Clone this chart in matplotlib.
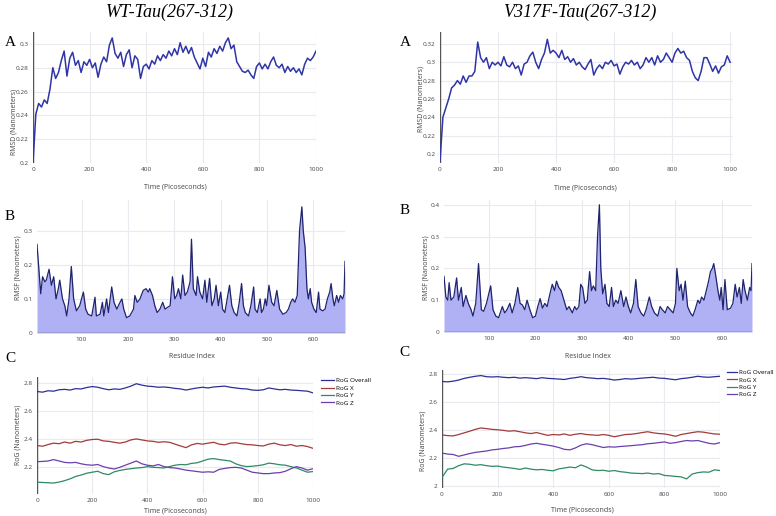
import numpy as np
import matplotlib
matplotlib.use("Agg")
import matplotlib.pyplot as plt
from matplotlib.ticker import FuncFormatter

W, H = 776, 516

# --- RMSD (A) ---
time_rmsd = np.arange(0, 1001, 10)
wt_rmsd = [0.200, 0.241, 0.250, 0.247, 0.253, 0.250, 0.262, 0.280, 0.271, 0.276,
           0.286, 0.294, 0.273, 0.288, 0.293, 0.282, 0.286, 0.276, 0.285, 0.282,
           0.287, 0.280, 0.284, 0.272, 0.283, 0.289, 0.285, 0.299, 0.305, 0.292,
           0.288, 0.293, 0.281, 0.291, 0.295, 0.280, 0.290, 0.287, 0.271, 0.281,
           0.283, 0.279, 0.286, 0.283, 0.290, 0.286, 0.291, 0.288, 0.294, 0.290,
           0.296, 0.291, 0.301, 0.293, 0.298, 0.292, 0.297, 0.289, 0.284, 0.279,
           0.288, 0.281, 0.293, 0.289, 0.296, 0.292, 0.298, 0.294, 0.301, 0.305,
           0.296, 0.299, 0.285, 0.281, 0.277, 0.276, 0.278, 0.274, 0.271, 0.281,
           0.284, 0.279, 0.283, 0.279, 0.285, 0.289, 0.282, 0.280, 0.283, 0.276,
           0.281, 0.277, 0.280, 0.276, 0.279, 0.274, 0.283, 0.288, 0.286, 0.289,
           0.294]
mut_rmsd = [0.192, 0.240, 0.250, 0.260, 0.272, 0.275, 0.280, 0.276, 0.285, 0.278,
            0.285, 0.285, 0.290, 0.322, 0.305, 0.300, 0.305, 0.293, 0.300, 0.297,
            0.300, 0.296, 0.306, 0.297, 0.295, 0.300, 0.293, 0.296, 0.286, 0.298,
            0.300, 0.307, 0.311, 0.300, 0.293, 0.303, 0.310, 0.325, 0.310, 0.313,
            0.310, 0.305, 0.313, 0.303, 0.306, 0.300, 0.304, 0.297, 0.300, 0.295,
            0.292, 0.298, 0.303, 0.286, 0.293, 0.297, 0.293, 0.300, 0.298, 0.302,
            0.296, 0.298, 0.287, 0.295, 0.300, 0.298, 0.302, 0.297, 0.300, 0.293,
            0.297, 0.305, 0.300, 0.305, 0.297, 0.307, 0.300, 0.303, 0.310, 0.305,
            0.300, 0.310, 0.315, 0.310, 0.312, 0.305, 0.302, 0.290, 0.283, 0.280,
            0.290, 0.305, 0.305, 0.298, 0.290, 0.296, 0.288, 0.295, 0.297, 0.307,
            0.300]

# --- RMSF (B) ---
wt_res = [4, 9, 12, 16, 21, 24, 30, 35, 40, 45, 50, 53, 59, 64, 68, 73, 78, 83, 89, 96,
          104, 109, 114, 122, 129, 132, 140, 145, 148, 154, 158, 165, 170, 176, 183, 187,
          191, 197, 204, 212, 215, 220, 226, 233, 239, 244, 247, 253, 258, 263, 269, 275,
          280, 285, 291, 296, 301, 305, 309, 314, 318, 323, 328, 334, 337, 341, 347, 350,
          355, 361, 366, 370, 376, 381, 386, 390, 395, 400, 404, 409, 414, 419, 424, 429,
          435, 440, 445, 449, 453, 460, 465, 471, 474, 479, 485, 488, 492, 496, 499, 504,
          510, 515, 521, 527, 534, 541, 546, 551, 555, 560, 565, 570, 575, 578, 582, 586,
          589, 593, 596, 601, 606, 611, 614, 620, 625, 630, 635, 638, 642, 645, 650, 654,
          658, 663, 666, 668]
wt_rmsf = [0.26, 0.17, 0.115, 0.165, 0.15, 0.155, 0.187, 0.14, 0.165, 0.10, 0.13, 0.155,
           0.10, 0.08, 0.05, 0.10, 0.195, 0.10, 0.065, 0.08, 0.12, 0.07, 0.055, 0.05,
           0.105, 0.05, 0.055, 0.09, 0.05, 0.10, 0.06, 0.135, 0.09, 0.07, 0.09, 0.10,
           0.07, 0.045, 0.05, 0.07, 0.11, 0.09, 0.10, 0.125, 0.13, 0.12, 0.13, 0.11,
           0.08, 0.06, 0.07, 0.09, 0.07, 0.075, 0.08, 0.165, 0.10, 0.11, 0.13, 0.10,
           0.17, 0.11, 0.12, 0.15, 0.275, 0.13, 0.11, 0.165, 0.12, 0.10, 0.155, 0.09,
           0.16, 0.08, 0.10, 0.14, 0.08, 0.12, 0.07, 0.06, 0.10, 0.14, 0.08, 0.06,
           0.05, 0.09, 0.145, 0.08, 0.06, 0.05, 0.08, 0.135, 0.07, 0.06, 0.10, 0.06,
           0.07, 0.10, 0.08, 0.14, 0.09, 0.08, 0.125, 0.07, 0.055, 0.06, 0.07, 0.09,
           0.10, 0.09, 0.11, 0.30, 0.37, 0.30, 0.25, 0.13, 0.10, 0.13, 0.09, 0.07,
           0.06, 0.12, 0.07, 0.065, 0.07, 0.10, 0.12, 0.145, 0.10, 0.08, 0.11, 0.09,
           0.11, 0.10, 0.115, 0.21]
mut_res = [4, 8, 12, 15, 19, 25, 31, 35, 41, 45, 51, 56, 62, 66, 72, 78, 84, 89, 95, 104,
           109, 115, 121, 129, 134, 139, 145, 150, 156, 162, 167, 172, 177, 182, 188, 194,
           200, 205, 210, 215, 220, 225, 231, 236, 241, 245, 250, 255, 261, 267, 272, 279,
           284, 288, 293, 297, 301, 306, 311, 316, 320, 324, 329, 333, 337, 340, 344, 349,
           353, 358, 363, 367, 372, 377, 383, 389, 394, 399, 404, 410, 415, 420, 426, 432,
           437, 444, 449, 455, 462, 467, 472, 478, 483, 489, 495, 500, 503, 508, 512, 516,
           521, 526, 532, 537, 542, 548, 552, 556, 561, 566, 571, 575, 579, 582, 586, 591,
           595, 598, 602, 606, 611, 618, 623, 628, 632, 637, 641, 645, 649, 654, 659, 662,
           664]
mut_rmsf = [0.175, 0.11, 0.10, 0.155, 0.10, 0.11, 0.17, 0.10, 0.14, 0.08, 0.115, 0.09,
            0.07, 0.05, 0.09, 0.215, 0.07, 0.065, 0.09, 0.145, 0.07, 0.05, 0.045, 0.08,
            0.06, 0.07, 0.09, 0.06, 0.09, 0.14, 0.09, 0.085, 0.07, 0.10, 0.07, 0.045,
            0.05, 0.08, 0.105, 0.075, 0.09, 0.08, 0.12, 0.15, 0.13, 0.16, 0.14, 0.13,
            0.10, 0.07, 0.08, 0.06, 0.08, 0.07, 0.08, 0.15, 0.14, 0.09, 0.10, 0.19,
            0.13, 0.145, 0.13, 0.30, 0.40, 0.20, 0.12, 0.15, 0.09, 0.08, 0.14, 0.08,
            0.10, 0.09, 0.13, 0.08, 0.11, 0.08, 0.06, 0.09, 0.165, 0.08, 0.06, 0.05,
            0.07, 0.11, 0.08, 0.06, 0.05, 0.08, 0.07, 0.06, 0.08, 0.07, 0.06, 0.09,
            0.20, 0.13, 0.15, 0.10, 0.16, 0.08, 0.06, 0.05, 0.07, 0.10, 0.09, 0.11,
            0.10, 0.13, 0.16, 0.19, 0.20, 0.215, 0.18, 0.13, 0.10, 0.14, 0.07, 0.165,
            0.07, 0.075, 0.09, 0.15, 0.11, 0.14, 0.09, 0.165, 0.13, 0.10, 0.14, 0.13,
            0.215]

# --- Radius of gyration (C) ---
time_rog = np.arange(0, 1001, 20)
wt_rog_all = [2.740, 2.735, 2.745, 2.742, 2.752, 2.755, 2.750, 2.760, 2.758, 2.768,
              2.775, 2.770, 2.760, 2.752, 2.758, 2.755, 2.765, 2.778, 2.795, 2.785,
              2.778, 2.775, 2.770, 2.772, 2.768, 2.762, 2.758, 2.750, 2.758, 2.765,
              2.770, 2.765, 2.772, 2.775, 2.778, 2.770, 2.765, 2.760, 2.758, 2.750,
              2.748, 2.752, 2.765, 2.758, 2.752, 2.755, 2.750, 2.748, 2.745, 2.742,
              2.730]
wt_rog_x = [2.355, 2.350, 2.362, 2.372, 2.368, 2.380, 2.372, 2.385, 2.380, 2.392,
            2.398, 2.400, 2.388, 2.385, 2.378, 2.372, 2.380, 2.395, 2.402, 2.395,
            2.388, 2.385, 2.378, 2.382, 2.378, 2.365, 2.352, 2.340, 2.360, 2.370,
            2.365, 2.372, 2.378, 2.365, 2.360, 2.372, 2.375, 2.368, 2.362, 2.360,
            2.355, 2.352, 2.365, 2.372, 2.360, 2.355, 2.362, 2.350, 2.355, 2.348,
            2.335]
wt_rog_y = [2.095, 2.092, 2.090, 2.088, 2.095, 2.105, 2.118, 2.135, 2.145, 2.158,
            2.165, 2.172, 2.155, 2.148, 2.168, 2.178, 2.185, 2.190, 2.195, 2.198,
            2.205, 2.200, 2.198, 2.195, 2.205, 2.215, 2.220, 2.218, 2.228, 2.232,
            2.245, 2.258, 2.262, 2.255, 2.250, 2.245, 2.225, 2.212, 2.205, 2.208,
            2.212, 2.218, 2.230, 2.225, 2.218, 2.215, 2.205, 2.195, 2.180, 2.165,
            2.170]
wt_rog_z = [2.240, 2.242, 2.245, 2.255, 2.245, 2.235, 2.232, 2.235, 2.225, 2.218,
            2.215, 2.220, 2.205, 2.195, 2.188, 2.200, 2.215, 2.230, 2.245, 2.225,
            2.215, 2.210, 2.220, 2.205, 2.198, 2.195, 2.188, 2.180, 2.175, 2.170,
            2.165, 2.168, 2.165, 2.185, 2.192, 2.198, 2.200, 2.195, 2.180, 2.165,
            2.160, 2.155, 2.155, 2.160, 2.162, 2.172, 2.190, 2.205, 2.195, 2.180,
            2.190]
mut_rog_all = [2.748, 2.745, 2.750, 2.758, 2.770, 2.778, 2.785, 2.790, 2.782, 2.780,
               2.782, 2.778, 2.775, 2.778, 2.772, 2.775, 2.772, 2.768, 2.775, 2.770,
               2.768, 2.765, 2.762, 2.770, 2.775, 2.782, 2.775, 2.772, 2.768, 2.770,
               2.765, 2.758, 2.762, 2.768, 2.765, 2.768, 2.772, 2.775, 2.778, 2.772,
               2.770, 2.765, 2.760, 2.768, 2.772, 2.778, 2.785, 2.780, 2.778, 2.782,
               2.785]
mut_rog_x = [2.365, 2.360, 2.358, 2.368, 2.380, 2.392, 2.405, 2.415, 2.410, 2.405,
             2.402, 2.398, 2.392, 2.395, 2.388, 2.380, 2.375, 2.382, 2.372, 2.362,
             2.368, 2.365, 2.372, 2.362, 2.370, 2.375, 2.368, 2.365, 2.362, 2.368,
             2.362, 2.352, 2.360, 2.368, 2.370, 2.375, 2.382, 2.388, 2.380, 2.375,
             2.372, 2.365, 2.355, 2.368, 2.375, 2.382, 2.388, 2.385, 2.378, 2.372,
             2.370]
mut_rog_y = [2.060, 2.120, 2.125, 2.145, 2.158, 2.155, 2.148, 2.152, 2.145, 2.140,
             2.142, 2.135, 2.130, 2.125, 2.118, 2.128, 2.120, 2.115, 2.118, 2.112,
             2.108, 2.122, 2.128, 2.135, 2.130, 2.150, 2.135, 2.115, 2.110, 2.112,
             2.105, 2.110, 2.102, 2.098, 2.092, 2.090, 2.088, 2.092, 2.085, 2.088,
             2.075, 2.072, 2.068, 2.065, 2.050, 2.085, 2.095, 2.100, 2.098, 2.115,
             2.110]
mut_rog_z = [2.235, 2.228, 2.225, 2.212, 2.222, 2.232, 2.240, 2.245, 2.250, 2.258,
             2.262, 2.268, 2.272, 2.280, 2.282, 2.290, 2.300, 2.305, 2.298, 2.292,
             2.285, 2.275, 2.262, 2.258, 2.272, 2.292, 2.302, 2.295, 2.285, 2.275,
             2.280, 2.278, 2.282, 2.285, 2.288, 2.292, 2.295, 2.302, 2.305, 2.310,
             2.315, 2.305, 2.310, 2.318, 2.325, 2.322, 2.325, 2.315, 2.305, 2.300,
             2.310]

rog_labels = ["RoG Overall", "RoG X", "RoG Y", "RoG Z"]
rog_colors = ["#2c2f96", "#a23a3a", "#2e8b62", "#6b3fae"]

LINE = "#2f35a6"
RMSF_LINE = "#20246e"
RMSF_FILL = "#b0b1f4"
GRID = "#e9e9ef"
TICK = "#444444"
SANS = ["Open Sans", "DejaVu Sans"]
SERIF = ["Liberation Serif", "DejaVu Serif"]


def box(l, t, r, b):
    return [l / W, 1 - b / H, (r - l) / W, (b - t) / H]


fig = plt.figure(figsize=(W / 100, H / 100), dpi=100)
fig.patch.set_facecolor("white")


def ftext(x, y, s, **kw):
    fig.text(x / W, 1 - y / H, s, ha="center", va="center", **kw)


def style(ax, zero=None):
    for s in ax.spines.values():
        s.set_visible(False)
    ax.grid(True, color=GRID, lw=0.8)
    ax.set_axisbelow(True)
    ax.tick_params(length=0, labelsize=4.6, labelcolor=TICK, pad=3)
    for lab in ax.get_xticklabels() + ax.get_yticklabels():
        lab.set_family(SANS)
    fmt = FuncFormatter(lambda v, p: "%g" % round(v, 3))
    ax.xaxis.set_major_formatter(fmt)
    ax.yaxis.set_major_formatter(fmt)
    if zero == "x":
        ax.axvline(0, color="#555555", lw=1.0, zorder=1)
    elif zero == "y":
        ax.axhline(0, color="#555555", lw=1.0, zorder=1)


# A panels
axA1 = fig.add_axes(box(33, 32, 316, 163))
axA1.plot(time_rmsd, wt_rmsd, color=LINE, lw=1.1)
axA1.set_xlim(0, 1000)
axA1.set_ylim(0.2, 0.31)
axA1.set_xticks([0, 200, 400, 600, 800, 1000])
axA1.set_yticks([0.2, 0.22, 0.24, 0.26, 0.28, 0.3])
style(axA1, "x")

axA2 = fig.add_axes(box(440, 32, 733, 163))
axA2.plot(time_rmsd, mut_rmsd, color=LINE, lw=1.1)
axA2.set_xlim(0, 1010)
axA2.set_ylim(0.19, 0.333)
axA2.set_xticks([0, 200, 400, 600, 800, 1000])
axA2.set_yticks([0.2, 0.22, 0.24, 0.26, 0.28, 0.3, 0.32])
style(axA2, "x")

# B panels
axB1 = fig.add_axes(box(37, 200, 345, 333))
axB1.fill_between(wt_res, wt_rmsf, 0, color=RMSF_FILL, lw=0)
axB1.plot(wt_res, wt_rmsf, color=RMSF_LINE, lw=0.9)
axB1.set_xlim(wt_res[0], wt_res[-1])
axB1.set_ylim(0, 0.39)
axB1.set_xticks([100, 200, 300, 400, 500, 600])
axB1.set_yticks([0, 0.1, 0.2, 0.3])
style(axB1, "y")

axB2 = fig.add_axes(box(444, 200, 752, 332))
axB2.fill_between(mut_res, mut_rmsf, 0, color=RMSF_FILL, lw=0)
axB2.plot(mut_res, mut_rmsf, color=RMSF_LINE, lw=0.9)
axB2.set_xlim(mut_res[0], mut_res[-1])
axB2.set_ylim(0, 0.415)
axB2.set_xticks([100, 200, 300, 400, 500, 600])
axB2.set_yticks([0, 0.1, 0.2, 0.3, 0.4])
style(axB2, "y")

# C panels
axC1 = fig.add_axes(box(37, 377, 313, 494))
for vals, lab, col in zip([wt_rog_all, wt_rog_x, wt_rog_y, wt_rog_z], rog_labels, rog_colors):
    axC1.plot(time_rog, vals, color=col, lw=0.9, label=lab)
axC1.set_xlim(0, 1000)
axC1.set_ylim(2.01, 2.843)
axC1.set_xticks([0, 200, 400, 600, 800, 1000])
axC1.set_yticks([2.2, 2.4, 2.6, 2.8])
style(axC1, "x")
axC1.legend(loc="upper left", bbox_to_anchor=(321 / W, 1 - 378 / H),
            bbox_transform=fig.transFigure, frameon=False, handlelength=2.0,
            handletextpad=0.35, labelspacing=0.3, borderpad=0, borderaxespad=0,
            prop={"family": SANS, "size": 4.6})

axC2 = fig.add_axes(box(442, 370, 720, 488))
for vals, lab, col in zip([mut_rog_all, mut_rog_x, mut_rog_y, mut_rog_z], rog_labels, rog_colors):
    axC2.plot(time_rog, vals, color=col, lw=0.9, label=lab)
axC2.set_xlim(0, 1000)
axC2.set_ylim(1.985, 2.83)
axC2.set_xticks([0, 200, 400, 600, 800, 1000])
axC2.set_yticks([2.0, 2.2, 2.4, 2.6, 2.8])
style(axC2, "x")
axC2.legend(loc="upper left", bbox_to_anchor=(727 / W, 1 - 370 / H),
            bbox_transform=fig.transFigure, frameon=False, handlelength=1.6,
            handletextpad=0.3, labelspacing=0.3, borderpad=0, borderaxespad=0,
            prop={"family": SANS, "size": 4.5})

# titles
ftext(170, 12, "WT-Tau(267-312)", family=SERIF, style="italic", fontsize=13)
ftext(580, 12, "V317F-Tau(267-312)", family=SERIF, style="italic", fontsize=13)

# panel letters
for x, y, s in [(10, 42, "A"), (405, 42, "A"), (10, 216, "B"), (405, 210, "B"),
                (10, 358, "C"), (404, 353, "C")]:
    ftext(x, y, s, family=SERIF, fontsize=11)

# axis titles
ax_kw = dict(family=SANS, fontsize=5.0, color=TICK)
ftext(175, 187, "Time (Picoseconds)", **ax_kw)
ftext(585, 188, "Time (Picoseconds)", **ax_kw)
ftext(192, 357, "Residue Index", **ax_kw)
ftext(588, 357, "Residue Index", **ax_kw)
ftext(175, 511, "Time (Picoseconds)", **ax_kw)
ftext(582, 510, "Time (Picoseconds)", **ax_kw)
ftext(14, 122, "RMSD (Nanometers)", rotation=90, **ax_kw)
ftext(421, 99, "RMSD (Nanometers)", rotation=90, **ax_kw)
ftext(18, 268, "RMSF (Nanometers)", rotation=90, **ax_kw)
ftext(426, 268, "RMSF (Nanometers)", rotation=90, **ax_kw)
ftext(18, 435, "RoG (Nanometers)", rotation=90, **ax_kw)
ftext(423, 441, "RoG (Nanometers)", rotation=90, **ax_kw)

fig.savefig("out.png", dpi=100)
